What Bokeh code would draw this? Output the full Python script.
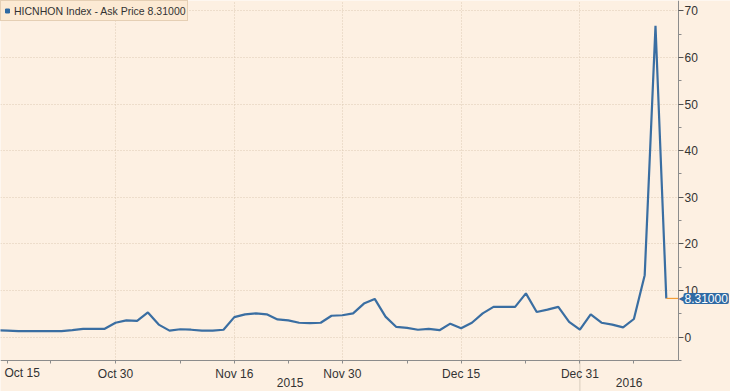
from bokeh.plotting import figure
from bokeh.models import Range1d, FixedTicker, Legend, LegendItem, Label
from bokeh.embed import file_html
from bokeh.resources import INLINE

# ---- data (HK business days, Oct 14 2015 .. Jan 13 2016) ----
dates = ["Oct 14", "Oct 15", "Oct 16", "Oct 19", "Oct 20", "Oct 22", "Oct 23", "Oct 26",
         "Oct 27", "Oct 28", "Oct 29", "Oct 30",
         "Nov 2", "Nov 3", "Nov 4", "Nov 5", "Nov 6", "Nov 9", "Nov 10", "Nov 11", "Nov 12",
         "Nov 13", "Nov 16", "Nov 17", "Nov 18", "Nov 19", "Nov 20", "Nov 23", "Nov 24",
         "Nov 25", "Nov 26", "Nov 27", "Nov 30",
         "Dec 1", "Dec 2", "Dec 3", "Dec 4", "Dec 7", "Dec 8", "Dec 9", "Dec 10", "Dec 11",
         "Dec 14", "Dec 15", "Dec 16", "Dec 17", "Dec 18", "Dec 21", "Dec 22", "Dec 23",
         "Dec 24", "Dec 28", "Dec 29", "Dec 30", "Dec 31",
         "Jan 4", "Jan 5", "Jan 6", "Jan 7", "Jan 8", "Jan 11", "Jan 12", "Jan 13"]
ask_price = [1.5, 1.4, 1.3, 1.3, 1.3, 1.3, 1.3, 1.5, 1.8, 1.8, 1.8, 3.1,
             3.6, 3.5, 5.3, 2.7, 1.4, 1.7, 1.6, 1.4, 1.4, 1.6, 4.3, 4.9, 5.1, 4.9,
             3.8, 3.6, 3.1, 3.0, 3.1, 4.6, 4.7,
             5.1, 7.2, 8.2, 4.4, 2.2, 2.0, 1.6, 1.8, 1.5, 2.9, 1.9, 3.1, 5.1, 6.5,
             6.5, 6.5, 9.4, 5.4, 5.9, 6.5, 3.3, 1.6,
             4.9, 3.1, 2.7, 2.1, 3.9, 13.3, 66.8, 8.31]
major_tick_dates = ["Oct 30", "Nov 16", "Nov 30", "Dec 15", "Dec 31"]
minor_tick_dates = ["Oct 22", "Nov 9", "Nov 23", "Dec 8", "Dec 23", "Jan 8"]
edge_label_date = "Oct 15"
year_labels = ["2015", "2016"]
year_start_date = "Dec 31"
y_ticks = [0, 10, 20, 30, 40, 50, 60, 70]
y_minor = [-5, 5, 15, 25, 35, 45, 55, 65]
series_name = "HICNHON Index - Ask Price"

BG = "#FDF0E2"
BLUE = "#3A6EA2"
TAG = "#2F6AA3"
GRID = "#DCCBB4"
AXIS = "#8C8C8C"
TXT = "#333333"
FONT = "Liberation Sans"

W, H = 730, 391          # canvas
PW, PH = 678, 360        # plot area (axes sit at its right / bottom edge)

x = list(range(len(dates)))
idx = {d: i for i, d in enumerate(dates)}
x_start, x_end = 0.35, 63.13
y_start, y_end = -5.0, 72.2
last = ask_price[-1]

# the frame covers the whole canvas; axes are pinned at the plot-area edges
x_canvas_end = x_start + (x_end - x_start) * W / PW
y_canvas_start = y_end - (y_end - y_start) * H / PH

p = figure(width=W, height=H, x_range=Range1d(x_start, x_canvas_end),
           y_range=Range1d(y_canvas_start, y_end), y_axis_location="right",
           output_backend="svg", toolbar_location=None,
           background_fill_color=BG, border_fill_color=BG, outline_line_color=None,
           min_border=0)

xa = p.xaxis[0]
xa.fixed_location = y_start
xa.bounds = (x_start, x_end)
tick_dates = [edge_label_date] + major_tick_dates
xa.ticker = FixedTicker(ticks=[idx[d] for d in tick_dates],
                        minor_ticks=[idx[d] for d in minor_tick_dates])
overrides = {idx[d]: d for d in major_tick_dates}
overrides[idx[edge_label_date]] = ""   # drawn as a shifted label below (edge of chart)
xa.major_label_overrides = overrides
xa.axis_line_color = AXIS
xa.major_tick_line_color = AXIS
xa.minor_tick_line_color = AXIS
xa.major_tick_in = 0
xa.major_tick_out = 3
xa.minor_tick_in = 0
xa.minor_tick_out = 3
xa.major_label_standoff = 3
xa.major_label_text_font = FONT
xa.major_label_text_font_size = "12px"
xa.major_label_text_color = TXT

ya = p.yaxis[0]
ya.fixed_location = x_end
ya.bounds = (y_start, y_end)
ya.ticker = FixedTicker(ticks=y_ticks, minor_ticks=y_minor)
ya.axis_line_color = AXIS
ya.major_tick_line_color = "#555555"
ya.minor_tick_line_color = AXIS
ya.major_tick_in = 0
ya.major_tick_out = 5
ya.minor_tick_in = 0
ya.minor_tick_out = 3
ya.major_label_standoff = 1
ya.major_label_text_font = FONT
ya.major_label_text_font_size = "12px"
ya.major_label_text_color = TXT

p.xgrid.ticker = FixedTicker(ticks=[idx[d] for d in major_tick_dates])
p.ygrid.ticker = FixedTicker(ticks=y_ticks)
p.xgrid.cross_bounds = (y_start, y_end)
p.ygrid.cross_bounds = (x_start, x_end)
for g in (p.xgrid, p.ygrid):
    g.grid_line_color = GRID
    g.grid_line_dash = "1 2"
    g.grid_line_width = 1

# year separator below the axis
p.segment(x0=[idx[year_start_date]], y0=[y_start], x1=[idx[year_start_date]],
          y1=[y_canvas_start], line_color="#D8CCBC", line_width=1)

# series
p.line(x, ask_price, line_color=BLUE, line_width=2.2)
p.line([x[-1], x_end], [last, last], line_color="#F39C34", line_width=1.2)

# legend
nan = float("nan")
dummy = p.scatter(x=[nan], y=[nan], marker="square", size=7, fill_color=TAG, line_color=TAG)
legend = Legend(items=[LegendItem(label=f"{series_name} {last:.5f}", renderers=[dummy])],
                location="top_left", margin=0, padding=1, spacing=0,
                glyph_width=10, glyph_height=17, label_standoff=2,
                label_text_font=FONT, label_text_font_size="10.5px", label_text_color=TXT,
                label_height=17,
                background_fill_color="#FCEAD4", background_fill_alpha=1,
                border_line_color="#CDB494")
p.add_layout(legend)

# edge date label & year labels
p.add_layout(Label(x=idx[edge_label_date], y=y_start, x_offset=-3, y_offset=-5,
                   text=edge_label_date, text_font=FONT, text_font_size="12px",
                   text_color=TXT, text_baseline="top", text_align="left"))
year_pos = [(x_start + idx[year_start_date]) / 2, (idx[year_start_date] + x_end) / 2]
for yl, xp in zip(year_labels, year_pos):
    p.add_layout(Label(x=xp, y=y_start, y_offset=-17, text=yl, text_font=FONT,
                       text_font_size="12px", text_color=TXT,
                       text_baseline="top", text_align="center"))

# last price tag
p.add_layout(Label(x=x_end, y=last, x_offset=0, text="\u25C0", text_color=TAG,
                   text_font="DejaVu Sans", text_font_size="12px",
                   text_baseline="middle", text_align="left"))
p.add_layout(Label(x=x_end, y=last, x_offset=5, text=f"{last:.5f}", text_color="white",
                   text_font=FONT, text_font_size="12px",
                   text_baseline="middle", text_align="left",
                   background_fill_color=TAG, padding=1, border_radius=2))

open("out.html", "w").write(file_html(p, INLINE))
